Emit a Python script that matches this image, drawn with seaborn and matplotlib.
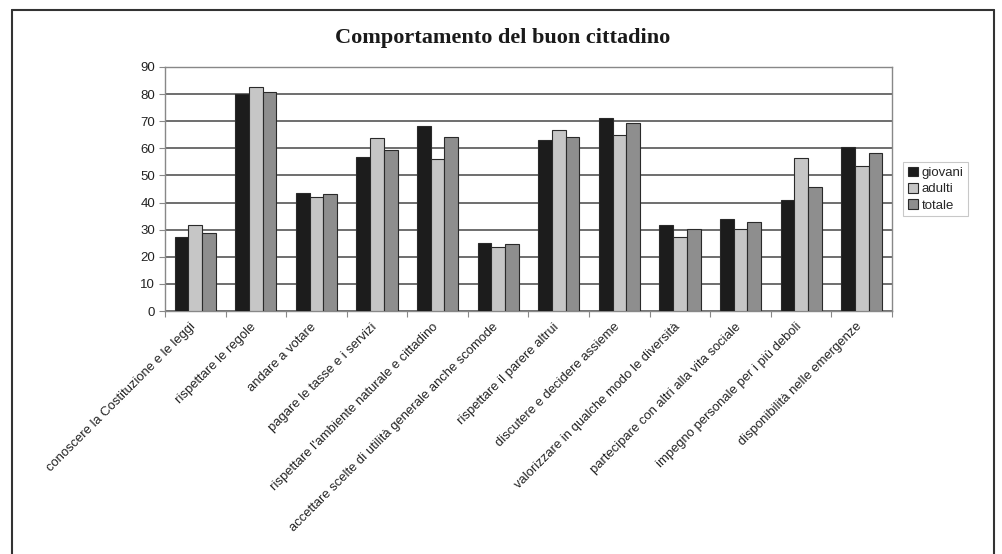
import matplotlib
matplotlib.use("Agg")
import matplotlib.pyplot as plt
import matplotlib.transforms as mtransforms
import seaborn as sns
import pandas as pd
from matplotlib.lines import Line2D

categories = [
    "conoscere la Costituzione e le leggi",
    "rispettare le regole",
    "andare a votare",
    "pagare le tasse e i servizi",
    "rispettare l'ambiente naturale e cittadino",
    "accettare scelte di utilità generale anche scomode",
    "rispettare il parere altrui",
    "discutere e decidere assieme",
    "valorizzare in qualche modo le diversità",
    "partecipare con altri alla vita sociale",
    "impegno personale per i più deboli",
    "disponibilità nelle emergenze",
]
giovani = [27.3, 80.1, 43.6, 56.8, 68.2, 25.2, 62.9, 71.1, 31.8, 33.8, 40.8, 60.6]
adulti = [31.8, 82.5, 41.9, 63.9, 56.0, 23.5, 66.9, 64.9, 27.3, 30.1, 56.3, 53.5]
totale = [28.8, 80.8, 43.1, 59.4, 64.2, 24.7, 64.2, 69.4, 30.4, 32.7, 45.9, 58.3]
series_names = ["giovani", "adulti", "totale"]
title = "Comportamento del buon cittadino"
yticks = [0, 10, 20, 30, 40, 50, 60, 70, 80, 90]

rows = []
for name, vals in zip(series_names, [giovani, adulti, totale]):
    for c, v in zip(categories, vals):
        rows.append({"categoria": c, "serie": name, "valore": v})
df = pd.DataFrame(rows)

sns.set_theme(style="white")
plt.rcParams["font.family"] = ["Liberation Sans", "DejaVu Sans"]

fig = plt.figure(figsize=(10.03, 5.54), dpi=100)
fig.patch.set_facecolor("white")
ax = fig.add_axes([165/1003, 1-311/554, (892-165)/1003, (311-67)/554])

palette = {"giovani": "#1c1c1c", "adulti": "#c6c6c6", "totale": "#8e8e8e"}
sns.barplot(data=df, x="categoria", y="valore", hue="serie", hue_order=series_names,
            order=categories, palette=palette, saturation=1, width=0.68,
            edgecolor="#2a2a2a", linewidth=0.8, ax=ax, zorder=3)

ax.set_ylim(0, 90)
ax.set_xlim(-0.5, len(categories) - 0.5)
ax.set_yticks(yticks)
ax.set_yticklabels([str(t) for t in yticks], fontsize=9.5, color="#222222")
ax.yaxis.grid(True, color="#555555", linewidth=1.2, zorder=0)
ax.set_axisbelow(True)
ax.set_xlabel("")
ax.set_ylabel("")

ax.set_xticks(range(len(categories)))
ax.set_xticklabels(categories, rotation=45, ha="right", rotation_mode="anchor",
                   fontsize=9.4, color="#222222")
ax.tick_params(axis="x", which="major", length=0, pad=7)
offset = mtransforms.ScaledTranslation(-6/100, 0, fig.dpi_scale_trans)
for lbl in ax.get_xticklabels():
    lbl.set_transform(lbl.get_transform() + offset)
ax.set_xticks([i - 0.5 for i in range(len(categories) + 1)], minor=True)
ax.tick_params(axis="x", which="minor", length=4, color="#888888", width=0.8, bottom=True)
ax.tick_params(axis="y", which="major", length=4, color="#888888", width=0.8, left=True, pad=3)

for s in ["left", "bottom", "right", "top"]:
    ax.spines[s].set_visible(True)
    ax.spines[s].set_color("#888888")
    ax.spines[s].set_linewidth(1.0)

leg = ax.legend(loc="upper left", bbox_to_anchor=(903/1003, 1-162/554),
                bbox_transform=fig.transFigure, borderaxespad=0, fontsize=9.5,
                frameon=True, fancybox=False, edgecolor="#bbbbbb", handlelength=0.75,
                handleheight=0.75, handletextpad=0.3, borderpad=0.35,
                labelspacing=0.3, title=None)
leg.get_frame().set_linewidth(0.8)

fig.text(503/1003, 1-38/554, title, ha="center", va="center",
         fontsize=16, fontweight="bold", family=["Liberation Serif", "DejaVu Serif"],
         color="#1a1a1a")

# outer frame (left, top, right)
fig.add_artist(Line2D([12/1003, 12/1003], [0, 1-10/554], color="#333333", lw=1.5,
                      transform=fig.transFigure))
fig.add_artist(Line2D([12/1003, 994/1003], [1-10/554, 1-10/554], color="#333333", lw=1.5,
                      transform=fig.transFigure))
fig.add_artist(Line2D([994/1003, 994/1003], [0, 1-10/554], color="#333333", lw=1.5,
                      transform=fig.transFigure))

fig.savefig("out.png", dpi=100)
